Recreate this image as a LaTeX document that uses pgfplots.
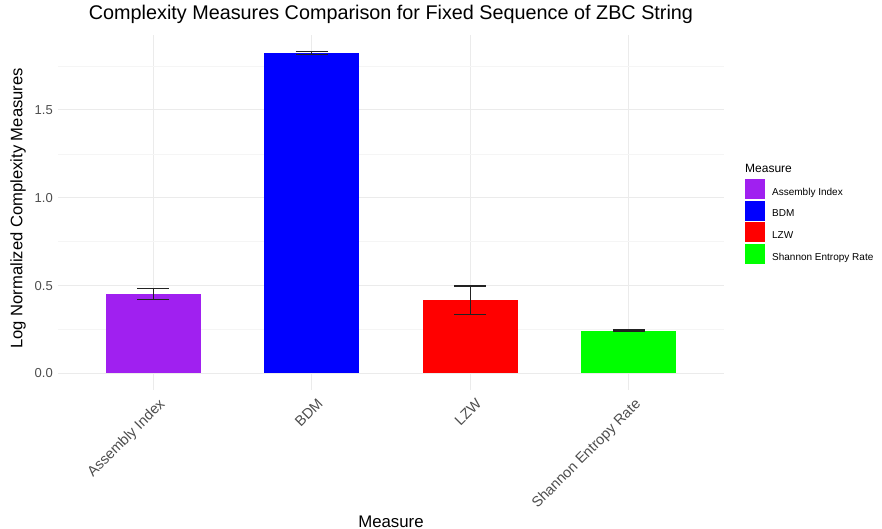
\documentclass[border=0pt]{standalone}
\usepackage{fontspec}
\setmainfont{Liberation Sans}
\usepackage{pgfplots}
\pgfplotsset{compat=1.18}
\definecolor{cAI}{HTML}{A020F0}
\definecolor{cBDM}{HTML}{0000FF}
\definecolor{cLZW}{HTML}{FF0000}
\definecolor{cSER}{HTML}{00FF00}
\definecolor{gridmaj}{HTML}{EBEBEB}
\definecolor{gridmin}{HTML}{F5F5F5}
\definecolor{ticktxt}{HTML}{4D4D4D}
\definecolor{errc}{HTML}{222222}
\begin{document}
\begin{tikzpicture}
\useasboundingbox (0,0) rectangle (882bp,-529bp);
\begin{axis}[
  at={(58bp,-389.5bp)}, anchor=south west,
  scale only axis, width=666bp, height=354.5bp,
  xmin=0.4, xmax=4.6, ymin=-0.0917, ymax=1.9267,
  axis line style={draw=none},
  major tick length=0pt, minor tick length=0pt,
  xtick={1,2,3,4},
  xticklabels={Assembly Index, BDM, LZW, Shannon Entropy Rate},
  x tick label style={rotate=45, anchor=north east, inner sep=0pt, yshift=-9bp, xshift=-2bp,
    font=\fontsize{14.5bp}{17bp}\selectfont, text=ticktxt},
  ytick={0,0.5,1,1.5}, yticklabels={0.0,0.5,1.0,1.5},
  minor ytick={0.25,0.75,1.25,1.75},
  y tick label style={anchor=east, inner sep=0pt, xshift=-5bp,
    font=\fontsize{13bp}{15bp}\selectfont, text=ticktxt},
  xmajorgrids, ymajorgrids, yminorgrids,
  major grid style={draw=gridmaj, line width=0.9bp},
  minor grid style={draw=gridmin, line width=0.6bp},
  title={Complexity Measures Comparison for Fixed Sequence of ZBC String},
  title style={at={(axis description cs:0.5,1.028)}, anchor=base, inner sep=0pt,
    font=\fontsize{19.8bp}{23bp}\selectfont},
  xlabel={Measure},
  xlabel style={at={(axis description cs:0.5,-0.388)}, anchor=base, inner sep=0pt,
    font=\fontsize{16.8bp}{19bp}\selectfont},
  ylabel={Log Normalized Complexity Measures},
  ylabel style={at={(axis description cs:-0.0601,0.511)}, anchor=center, inner sep=0pt,
    font=\fontsize{16.6bp}{19bp}\selectfont},
  ybar, bar width=0.6,
  legend style={at={(axis description cs:1.0315,0.5938)}, anchor=north west,
    draw=none, fill=none, inner sep=0pt, row sep=1.5bp, column sep=7bp,
    font=\fontsize{10bp}{12bp}\selectfont, nodes={inner sep=0pt}},
  legend cell align=left,
  legend image code/.code={\fill[#1] (0bp,-6.5bp) rectangle (20bp,13.5bp);},
  clip=false,
  error bars/y dir=both, error bars/y explicit,
  error bars/error bar style={line width=1.1bp, errc},
  error bars/error mark options={rotate=90, line width=1.1bp, errc, mark size=16bp},
]
\addplot[bar shift=0pt, fill=cAI, draw=none]
  coordinates {(1,0.453) +- (0,0.032)};
\addlegendentry{Assembly Index}
\addplot[bar shift=0pt, fill=cBDM, draw=none]
  coordinates {(2,1.825) +- (0,0.008)};
\addlegendentry{BDM}
\addplot[bar shift=0pt, fill=cLZW, draw=none]
  coordinates {(3,0.4175) +- (0,0.080)};
\addlegendentry{LZW}
\addplot[bar shift=0pt, fill=cSER, draw=none]
  coordinates {(4,0.244) +- (0,0.003)};
\addlegendentry{Shannon Entropy Rate}
\node[anchor=base west, inner sep=0pt, font=\fontsize{12bp}{14bp}\selectfont]
  at (axis description cs:1.0315,0.6112) {Measure};
\end{axis}
\end{tikzpicture}
\end{document}
